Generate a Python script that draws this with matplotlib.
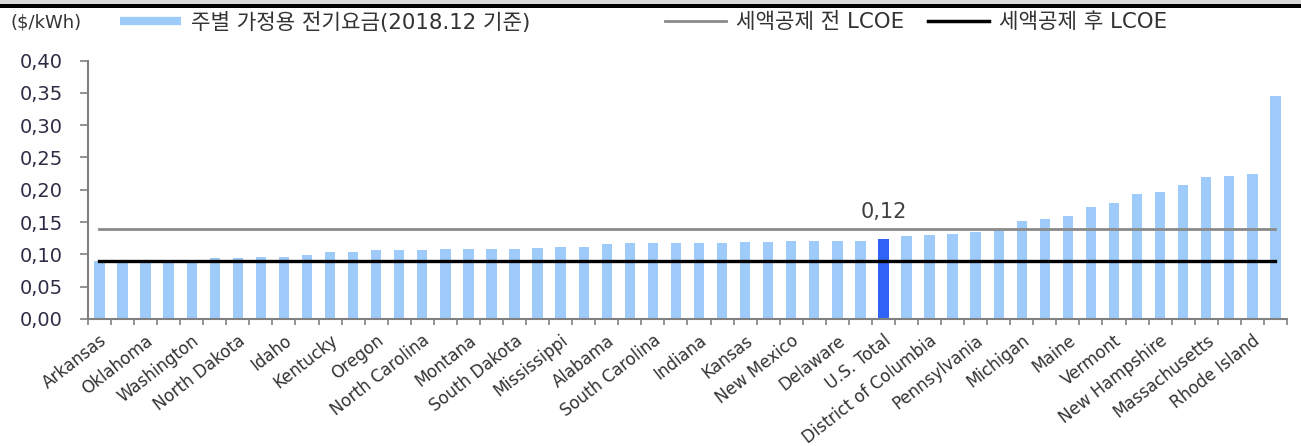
import matplotlib.pyplot as plt
from matplotlib.lines import Line2D
from matplotlib.patches import Rectangle
import numpy as np

plt.rcParams['font.family'] = ['DejaVu Sans', 'Noto Sans CJK KR']

# residential electricity price by state, Dec 2018 ($/kWh), sorted
states = ["Arkansas", "Louisiana", "Oklahoma", "Tennessee", "Washington",
          "Utah", "North Dakota", "Nebraska", "Idaho", "Missouri",
          "Kentucky", "Wyoming", "Oregon", "Virginia", "North Carolina",
          "West Virginia", "Montana", "Georgia", "South Dakota", "Iowa",
          "Mississippi", "Texas", "Alabama", "Florida", "South Carolina",
          "Nevada", "Indiana", "Colorado", "Kansas", "Ohio",
          "New Mexico", "Arizona", "Delaware", "Minnesota", "U.S. Total",
          "Illinois", "District of Columbia", "Wisconsin", "Pennsylvania",
          "Maryland", "Michigan", "New Jersey", "Maine", "New York",
          "Vermont", "California", "New Hampshire", "Connecticut",
          "Massachusetts", "Alaska", "Rhode Island", "Hawaii"]
prices = [0.090, 0.090, 0.090, 0.090, 0.091,
          0.094, 0.094, 0.096, 0.096, 0.099,
          0.103, 0.103, 0.106, 0.107, 0.107,
          0.108, 0.108, 0.109, 0.109, 0.110,
          0.111, 0.112, 0.116, 0.117, 0.117,
          0.118, 0.118, 0.118, 0.119, 0.119,
          0.120, 0.121, 0.121, 0.121, 0.124,
          0.128, 0.130, 0.132, 0.135, 0.137,
          0.151, 0.154, 0.160, 0.173, 0.179,
          0.194, 0.197, 0.208, 0.220, 0.221,
          0.225, 0.345]
lcoe_before = 0.14   # 세액공제 전
lcoe_after = 0.09    # 세액공제 후
highlight = "U.S. Total"

light = "#9ecbfa"
dark = "#2f63f5"
grey = "#8a8a8a"

fig = plt.figure(figsize=(13.01, 4.46), dpi=100)
ax = fig.add_axes([0.0676, 0.2848, 0.9216, 0.5794])

x = np.arange(len(states))
colors = [dark if s == highlight else light for s in states]
ax.bar(x, prices, width=0.45, color=colors, zorder=1)
ax.plot(x, [lcoe_before] * len(x), color=grey, lw=2.0, zorder=3)
ax.plot(x, [lcoe_after] * len(x), color="black", lw=2.4, zorder=3)

idx = states.index(highlight)
ax.annotate(f"{prices[idx]:.2f}".replace(".", ","), (idx, lcoe_before),
            xytext=(0, 5), textcoords="offset points",
            ha="center", va="bottom", fontsize=15, color="#404040")

ax.set_xlim(-0.5, len(states) - 0.5)
ax.set_ylim(0, 0.40)
ax.set_yticks(np.arange(0, 0.401, 0.05))
ax.yaxis.set_major_formatter(lambda v, pos: f"{v:.2f}".replace(".", ","))

# labels on every other bar, tick marks between bars
ax.set_xticks(x[::2])
ax.set_xticklabels(states[::2], rotation=38, ha="right",
                   rotation_mode="anchor", fontsize=12, color="#333333")
ax.set_xticks(np.arange(-0.5, len(states), 1.0), minor=True)
ax.tick_params(axis="x", which="major", length=0, pad=9)
ax.tick_params(axis="x", which="minor", length=4, width=1.2, color="#808080")
ax.tick_params(axis="y", length=6, width=1.2, color="#808080",
               labelsize=14, labelcolor="#2d2d45", pad=12)

for side in ["top", "right"]:
    ax.spines[side].set_visible(False)
for side in ["left", "bottom"]:
    ax.spines[side].set_color("#808080")
    ax.spines[side].set_linewidth(1.5)

# header band
fig.add_artist(Rectangle((0, 1 - 4 / 446), 1, 4 / 446,
                         transform=fig.transFigure, color="#d9d9d9", lw=0))
fig.add_artist(Rectangle((0, 1 - 7.5 / 446), 1, 3.5 / 446,
                         transform=fig.transFigure, color="black", lw=0))

fig.text(10 / 1301, 1 - 22 / 446, "($/kWh)", fontsize=13,
         color="#333333", va="center", ha="left")

entries = [
    (Line2D([], [], color=light, lw=6, solid_capstyle="butt"),
     "주별 가정용 전기요금(2018.12 기준)", 120),
    (Line2D([], [], color=grey, lw=2), "세액공제 전 LCOE", 665),
    (Line2D([], [], color="black", lw=2.5), "세액공제 후 LCOE", 928),
]
for handle, label, left in entries:
    leg = fig.legend([handle], [label], loc="center left",
                     bbox_to_anchor=(left / 1301, 1 - 22 / 446),
                     frameon=False, fontsize=15.3, handlelength=2.85,
                     handletextpad=0.47, borderpad=0, borderaxespad=0)
    for t in leg.get_texts():
        t.set_color("#333333")

fig.savefig("out.png", dpi=100)
